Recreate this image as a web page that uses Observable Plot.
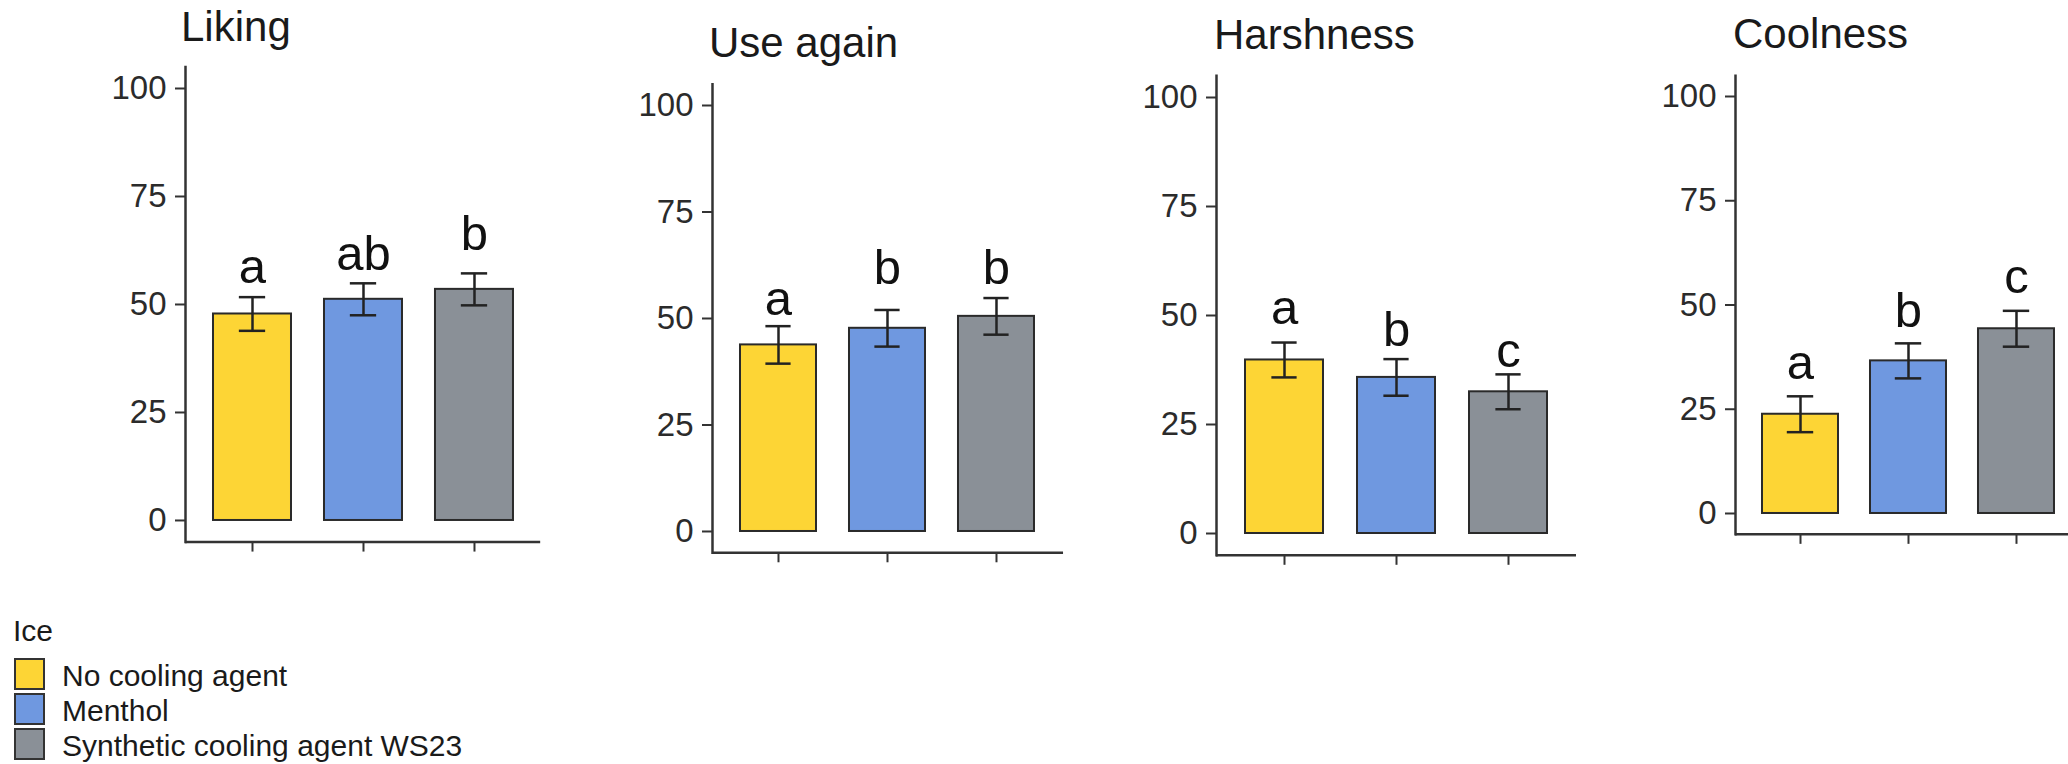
<!DOCTYPE html>
<html>
<head>
<meta charset="utf-8">
<script src="https://cdn.jsdelivr.net/npm/d3@7"></script>
<script src="https://cdn.jsdelivr.net/npm/@observablehq/plot@0.6"></script>
<style>
  body { margin: 0; background: #fff; overflow: hidden; font-family: "Liberation Sans", Arial, sans-serif; }
  #root { position: relative; width: 2068px; height: 764px; overflow: hidden; background: #fff; }
  .panel { position: absolute; top: 0; }
  .title { position: absolute; font-size: 42px; line-height: 42px; color: #1a1a1a; white-space: nowrap; }
  .legend-title { position: absolute; font-size: 30px; line-height: 30px; color: #1a1a1a; }
  .sw { position: absolute; box-sizing: border-box; border: 2px solid #333; width: 31px; height: 32px; }
  .lab { position: absolute; font-size: 30px; line-height: 32px; height: 32px; color: #1a1a1a; white-space: nowrap; }
</style>
</head>
<body>
<div id="root"></div>
<script>
// ---------------- data ----------------
const categories = ["No cooling agent", "Menthol", "Synthetic cooling agent WS23"];
const colors = ["#FDD535", "#6F98E0", "#8A9097"];
const legendTitle = "Ice";
const attributes = ["Liking", "Use again", "Harshness", "Coolness"];
const yTicks = [0, 25, 50, 75, 100];

const likingMean    = [47.8, 51.2, 53.5];
const useAgainMean  = [43.8, 47.7, 50.5];
const harshnessMean = [39.8, 35.8, 32.5];
const coolnessMean  = [23.8, 36.6, 44.3];

const likingSE    = [3.9, 3.7, 3.7];
const useAgainSE  = [4.4, 4.3, 4.3];
const harshnessSE = [4.0, 4.2, 4.0];
const coolnessSE  = [4.3, 4.2, 4.3];

const likingLetters    = ["a", "ab", "b"];
const useAgainLetters  = ["a", "b", "b"];
const harshnessLetters = ["a", "b", "c"];
const coolnessLetters  = ["a", "b", "c"];

// height (data units) of the letter baselines
const likingLetterY    = [54.9, 58.0, 62.7];
const useAgainLetterY  = [50.9, 58.1, 58.1];
const harshnessLetterY = [48.0, 43.1, 38.2];
const coolnessLetterY  = [32.3, 44.7, 52.8];

const means   = [likingMean, useAgainMean, harshnessMean, coolnessMean];
const ses     = [likingSE, useAgainSE, harshnessSE, coolnessSE];
const letters = [likingLetters, useAgainLetters, harshnessLetters, coolnessLetters];
const letterY = [likingLetterY, useAgainLetterY, harshnessLetterY, coolnessLetterY];

// ---------------- layout (pixels) ----------------
const layout = [
  {axisX: 185,  y0: 520, y100: 88,  step: 111,   titleX: 181,  titleBase: 42},
  {axisX: 712,  y0: 531, y100: 105, step: 109.7, titleX: 709,  titleBase: 58},
  {axisX: 1216, y0: 533, y100: 97,  step: 112.5, titleX: 1214, titleBase: 50},
  {axisX: 1735, y0: 513, y100: 96,  step: 108,   titleX: 1733, titleBase: 49}
];

const root = document.getElementById("root");
const FONT = '"Liberation Sans", Arial, sans-serif';
const INK = "#222";

attributes.forEach((attr, p) => {
  const L = layout[p];
  const rows = categories.map((c, i) => ({
    cat: c, mean: means[p][i], se: ses[p][i], letter: letters[p][i], ly: letterY[p][i]
  }));
  const ppu = (L.y0 - L.y100) / 100;
  const yTop = L.y100 - 5 * ppu;
  const yBot = L.y0 + 5 * ppu;
  const H = 600, ML = 100, MR = 20;
  const W = ML + 3.2 * L.step + MR;
  const bw = 0.7 * L.step;
  const inset = (bw - 26) / 2;

  const chart = Plot.plot({
    width: W, height: H,
    marginLeft: ML, marginRight: MR, marginTop: yTop, marginBottom: H - yBot,
    style: {fontFamily: FONT, background: "transparent", color: "#333", overflow: "visible"},
    x: {domain: categories, paddingInner: 0.3, paddingOuter: 0.25, axis: null},
    y: {domain: [-5, 105], axis: null},
    color: {domain: categories, range: colors},
    marks: [
      Plot.barY(rows, {x: "cat", y: "mean", fill: "cat", stroke: "#2a2a2a", strokeWidth: 2}),
      Plot.ruleX(rows, {x: "cat", y1: d => d.mean - d.se, y2: d => d.mean + d.se, stroke: INK, strokeWidth: 2.5}),
      Plot.tickY(rows, {x: "cat", y: d => d.mean + d.se, stroke: INK, strokeWidth: 2.5, insetLeft: inset, insetRight: inset}),
      Plot.tickY(rows, {x: "cat", y: d => d.mean - d.se, stroke: INK, strokeWidth: 2.5, insetLeft: inset, insetRight: inset}),
      Plot.text(rows, {x: "cat", y: "ly", text: "letter", fontSize: 49, lineAnchor: "bottom", fill: "#111"}),
      Plot.axisY({ticks: yTicks, tickSize: 10, tickPadding: 9, fontSize: 33, strokeWidth: 2, label: null, fill: "#2b2b2b"}),
      Plot.axisX({tickSize: 10, tickFormat: () => "", strokeWidth: 2, label: null}),
      Plot.ruleY([-5], {stroke: "#333", strokeWidth: 2.5}),
      Plot.frame({anchor: "left", stroke: "#333", strokeWidth: 2.5})
    ]
  });
  chart.classList.add("panel");
  chart.style.left = (L.axisX - ML) + "px";
  chart.style.position = "absolute";
  chart.style.top = "0px";
  root.appendChild(chart);

  const t = document.createElement("div");
  t.className = "title";
  t.textContent = attr;
  t.style.left = L.titleX + "px";
  t.style.top = (L.titleBase - 36) + "px";
  root.appendChild(t);
});

// ---------------- legend ----------------
const lt = document.createElement("div");
lt.className = "legend-title";
lt.textContent = legendTitle;
lt.style.left = "13px";
lt.style.top = (641 - 25) + "px";
root.appendChild(lt);

categories.forEach((c, i) => {
  const top = 658 + 35 * i;
  const sw = document.createElement("div");
  sw.className = "sw";
  sw.style.left = "14px";
  sw.style.top = top + "px";
  sw.style.background = colors[i];
  root.appendChild(sw);
  const lab = document.createElement("div");
  lab.className = "lab";
  lab.textContent = c;
  lab.style.left = "62px";
  lab.style.top = (top + 2) + "px";
  root.appendChild(lab);
});
</script>
</body>
</html>
